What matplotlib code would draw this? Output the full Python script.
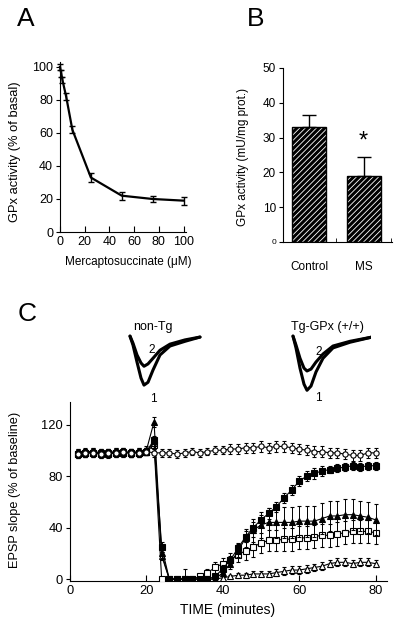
import matplotlib
matplotlib.use('Agg')
import matplotlib.pyplot as plt
import numpy as np

plt.rcParams['font.family'] = ['Liberation Sans', 'DejaVu Sans']
plt.rcParams['hatch.linewidth'] = 0.6

# ---- panel A: GPx activity vs mercaptosuccinate
ms_conc = [0, 1, 2, 5, 10, 25, 50, 75, 100]
gpx_pct = [100, 96, 92, 82, 62, 33, 22, 20, 19]
gpx_pct_err = [2, 2, 2, 2, 2, 3, 2.5, 2, 2.5]

# ---- panel B: GPx activity, control vs MS
groups = ['Control', 'MS']
gpx_act = [33, 19]
gpx_act_err = [3.5, 5.3]

# ---- panel C: EPSP slope time course
time_min = [2, 4, 6, 8, 10, 12, 14, 16, 18, 20, 22, 24, 26, 28, 30, 32, 34, 36, 38, 40,
            42, 44, 46, 48, 50, 52, 54, 56, 58, 60, 62, 64, 66, 68, 70, 72, 74, 76, 78, 80]
ctrl_o = [97, 98, 98, 97, 98, 98, 99, 98, 98, 99, 98, 98, 98, 97, 98, 99, 98, 99, 100, 100,
          101, 101, 102, 102, 103, 102, 103, 103, 102, 101, 100, 99, 99, 98, 98, 97, 96, 96, 98, 98]
ctrl_o_err = [3] * 11 + [3] * 9 + [4] * 20
sq_f = [97, 98, 98, 98, 97, 98, 98, 98, 98, 99, 108, 25, 0, 0, 0, 0, 0, 0, 2, 8,
        15, 24, 33, 40, 46, 51, 56, 63, 69, 76, 80, 82, 84, 85, 86, 87, 88, 87, 88, 88]
sq_f_err = [3] * 11 + [4] + [0] * 6 + [2, 3, 3, 4, 4, 4, 4, 4, 4, 4, 4, 4, 4, 4, 4, 3, 3, 3, 3, 3, 3, 3]
tri_f = [98, 99, 99, 98, 98, 99, 99, 98, 99, 100, 122, 20, 0, 0, 0, 0, 0, 0, 0, 5,
         12, 22, 32, 38, 42, 44, 44, 44, 44, 45, 45, 45, 47, 49, 49, 50, 50, 49, 48, 46]
tri_f_err = [3] * 10 + [4, 4] + [0] * 7 + [3, 4, 5, 7, 9, 10, 11, 12, 12, 12, 12, 12, 12, 12, 12, 12, 12, 12, 12, 12, 12]
sq_o = [97, 98, 98, 97, 98, 98, 99, 98, 98, 99, 104, 0, 0, 0, 0, 0, 2, 5, 9, 12,
        15, 19, 22, 25, 28, 30, 30, 31, 31, 32, 32, 33, 34, 34, 35, 36, 37, 37, 37, 36]
sq_o_err = [3] * 11 + [0, 0, 0, 8, 0, 2, 3, 4, 4, 5, 6, 7, 8, 8, 8, 8, 9, 9, 9, 9, 9, 9, 9, 9, 9, 9, 9, 9, 9]
tri_o = [98, 98, 99, 98, 98, 99, 98, 98, 99, 99, 106, 18, 0, 0, 0, 0, 0, 0, 0, 1,
         2, 3, 3, 4, 4, 4, 5, 6, 7, 7, 8, 9, 10, 12, 13, 13, 12, 13, 13, 12]
tri_o_err = [3] * 11 + [3] + [0] * 7 + [1, 1, 2, 2, 2, 2, 2, 3, 3, 3, 3, 3, 3, 3, 3, 3, 3, 3, 3, 3, 3]

# ---- EPSP traces (ms, mV)
tr_ms = [0, 0.6, 1.4, 2.2, 2.8, 3.6, 4.6, 6, 8, 11, 14]
nontg_1 = [0.02, -0.17, -0.53, -0.87, -1.02, -0.96, -0.70, -0.38, -0.19, -0.09, 0]
nontg_2 = [0.02, -0.13, -0.38, -0.55, -0.62, -0.57, -0.45, -0.28, -0.15, -0.06, 0]
tg_ms = [0, 0.6, 1.4, 2.2, 2.8, 3.6, 4.6, 6, 8, 11.4, 15.8]
tg_1 = [0.02, -0.23, -0.66, -1.0, -1.13, -1.04, -0.74, -0.45, -0.23, -0.11, 0]
tg_2 = [0.02, -0.17, -0.45, -0.66, -0.72, -0.68, -0.53, -0.36, -0.19, -0.09, 0]

W, H = 400, 622


def box(x0, y0, x1, y1):
    return [x0 / W, 1 - y1 / H, (x1 - x0) / W, (y1 - y0) / H]


def ftext(x, y, s, **kw):
    fig.text(x / W, 1 - y / H, s, ha='center', va='center', **kw)


fig = plt.figure(figsize=(4.0, 6.22), dpi=100)

# ---------------- A
axA = fig.add_axes(box(60, 62, 186, 232))
axA.errorbar(ms_conc, gpx_pct, yerr=gpx_pct_err, color='black', lw=1.6,
             elinewidth=1.0, capsize=2, capthick=1.0, clip_on=False)
axA.set_xlim(0, 102)
axA.set_ylim(0, 103)
axA.set_xticks([0, 20, 40, 60, 80, 100])
axA.set_yticks([0, 20, 40, 60, 80, 100])
axA.tick_params(axis='x', direction='in', length=4, labelsize=9, pad=3)
axA.tick_params(axis='y', direction='out', length=3, labelsize=9, pad=2)
for s in ['top', 'right']:
    axA.spines[s].set_visible(False)
ftext(15, 152, 'GPx activity (% of basal)', rotation=90, fontsize=9.3)
ftext(128, 262, 'Mercaptosuccinate (\u03bcM)', fontsize=8.5)
ftext(26, 19, 'A', fontsize=19)

# ---------------- B
axB = fig.add_axes(box(283, 68, 392, 242))
xb = np.arange(len(groups))
axB.bar(xb, gpx_act, width=0.62, color='black', edgecolor='white', hatch='//////', lw=0)
axB.bar(xb, gpx_act, width=0.62, fill=False, edgecolor='black', lw=1.0)
axB.errorbar(xb, gpx_act, yerr=[[0, 0], gpx_act_err], fmt='none', ecolor='black',
             elinewidth=1.0, capsize=5, capthick=1.0)
axB.text(1, 29, '*', ha='center', va='center', fontsize=17)
axB.set_xlim(-0.48, 1.52)
axB.set_ylim(0, 50)
axB.set_yticks([0, 10, 20, 30, 40, 50])
axB.set_xticks(xb)
axB.set_xticklabels(groups, fontsize=8.5)
axB.set_xticks([0.5, 1.5], minor=True)
axB.tick_params(axis='x', which='major', length=0, pad=14)
axB.tick_params(axis='x', which='minor', direction='in', length=3)
axB.tick_params(axis='y', direction='out', length=3, labelsize=8.5, pad=2)
axB.get_yticklabels()[0].set_fontsize(6)
for s in ['top', 'right']:
    axB.spines[s].set_visible(False)
ftext(243, 157, 'GPx activity (mU/mg prot.)', rotation=90, fontsize=8.5)
ftext(256, 19, 'B', fontsize=19)

# ---------------- C traces
for (x0, x1), xs, t1, t2 in [((128, 208), tr_ms, nontg_1, nontg_2),
                             ((291, 371), tg_ms, tg_1, tg_2)]:
    axt = fig.add_axes(box(x0, 330, x1, 395))
    axt.plot(xs, t1, color='black', lw=2.2, solid_capstyle='round')
    axt.plot(xs, t2, color='black', lw=2.2, solid_capstyle='round')
    axt.set_xlim(-0.4, 15.6)
    axt.set_ylim(-1.23, 0.15)
    axt.axis('off')
ftext(153, 327, 'non-Tg', fontsize=9)
ftext(327, 327, 'Tg-GPx (+/+)', fontsize=9)
ftext(152, 350, '2', fontsize=8.5)
ftext(153, 399, '1', fontsize=8.5)
ftext(319, 352, '2', fontsize=8.5)
ftext(318, 398, '1', fontsize=8.5)
ftext(27, 314, 'C', fontsize=19)

# ---------------- C time course
axC = fig.add_axes(box(70, 402, 387, 581))
series = [
    (sq_o, sq_o_err, 's', 'white'),
    (tri_o, tri_o_err, '^', 'white'),
    (tri_f, tri_f_err, '^', 'black'),
    (sq_f, sq_f_err, 's', 'black'),
    (ctrl_o, ctrl_o_err, 'o', 'white'),
]
for i, (vals, err, mk, fc) in enumerate(series):
    axC.errorbar(time_min, vals, yerr=err, color='black', lw=0.8, marker=mk,
                 markersize=3.8, markerfacecolor=fc, markeredgecolor='black',
                 markeredgewidth=0.8, elinewidth=0.7, capsize=1.5, capthick=0.7,
                 zorder=3 + i)
axC.set_xlim(0, 83)
axC.set_ylim(-1.5, 137.5)
axC.set_xticks([0, 20, 40, 60, 80])
axC.set_yticks([0, 40, 80, 120])
axC.tick_params(axis='x', direction='in', length=4, labelsize=9.3, pad=3)
axC.tick_params(axis='y', direction='out', length=3, labelsize=9.3, pad=2)
for s in ['top', 'right']:
    axC.spines[s].set_visible(False)
ftext(15, 490, 'EPSP slope (% of baseline)', rotation=90, fontsize=9.2)
ftext(228, 610, 'TIME (minutes)', fontsize=10)

fig.savefig('out.png', dpi=100)
